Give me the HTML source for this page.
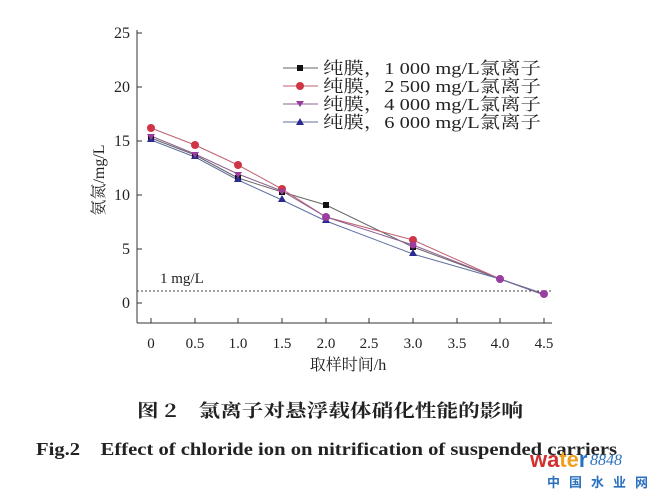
<!DOCTYPE html>
<html><head><meta charset="utf-8"><style>
body{margin:0;background:#fff;width:656px;height:495px;overflow:hidden}
text{font-family:"Liberation Serif","Noto Serif CJK SC",serif;fill:#222}
</style></head><body>
<svg width="656" height="495" viewBox="0 0 656 495">
<g stroke="#333" stroke-width="1" fill="none">
<line x1="137" y1="30" x2="137" y2="323"/>
<line x1="137" y1="323" x2="552" y2="323"/>
<line x1="137" y1="303" x2="142" y2="303"/><line x1="137" y1="249" x2="142" y2="249"/><line x1="137" y1="195" x2="142" y2="195"/><line x1="137" y1="141" x2="142" y2="141"/><line x1="137" y1="87" x2="142" y2="87"/><line x1="137" y1="33" x2="142" y2="33"/>
<line x1="151" y1="323" x2="151" y2="318"/><line x1="195" y1="323" x2="195" y2="318"/><line x1="238" y1="323" x2="238" y2="318"/><line x1="282" y1="323" x2="282" y2="318"/><line x1="326" y1="323" x2="326" y2="318"/><line x1="369" y1="323" x2="369" y2="318"/><line x1="413" y1="323" x2="413" y2="318"/><line x1="457" y1="323" x2="457" y2="318"/><line x1="500" y1="323" x2="500" y2="318"/><line x1="544" y1="323" x2="544" y2="318"/>
<line x1="137" y1="291" x2="552" y2="291" stroke-dasharray="2,2" stroke="#444"/>
</g>
<g font-size="16" text-anchor="end">
<text x="130" y="308">0</text><text x="130" y="254">5</text><text x="130" y="200">10</text><text x="130" y="146">15</text><text x="130" y="92">20</text><text x="130" y="38">25</text>
</g>
<g font-size="15" text-anchor="middle">
<text x="151" y="348">0</text><text x="195" y="348">0.5</text><text x="238" y="348">1.0</text><text x="282" y="348">1.5</text><text x="326" y="348">2.0</text><text x="369" y="348">2.5</text><text x="413" y="348">3.0</text><text x="457" y="348">3.5</text><text x="500" y="348">4.0</text><text x="544" y="348">4.5</text>
</g>
<text x="160" y="283" font-size="15">1 mg/L</text>
<text x="348" y="370" font-size="16" text-anchor="middle">取样时间/h</text>
<text transform="translate(104 180) rotate(-90)" font-size="16" text-anchor="middle">氨氮/mg/L</text>
<g stroke-width="1" fill="none">
<polyline stroke="#666" points="151,138 195,155 238,178 282,192 326,205 413,247 500,279 544,294"/>
<polyline stroke="#c06070" points="151,128 195,145 238,165 282,189 326,217 413,240 500,279 544,294"/>
<polyline stroke="#906090" points="151,136 195,154 238,174 282,191 326,217 413,245 500,279 544,295"/>
<polyline stroke="#6070a0" points="151,140 195,157 238,180 282,200 326,221 413,254 500,279 544,294"/>
</g>
<g fill="#111"><rect x="148" y="135" width="6" height="6"/><rect x="192" y="152" width="6" height="6"/><rect x="235" y="175" width="6" height="6"/><rect x="279" y="189" width="6" height="6"/><rect x="323" y="202" width="6" height="6"/><rect x="410" y="244" width="6" height="6"/></g>
<g fill="#d03545"><circle cx="151" cy="128" r="4"/><circle cx="195" cy="145" r="4"/><circle cx="238" cy="165" r="4"/><circle cx="282" cy="189" r="4"/><circle cx="413" cy="240" r="4"/></g>
<g fill="#2a2a90"><polygon points="151,135 155,142 147,142"/><polygon points="195,152 199,159 191,159"/><polygon points="238,175 242,182 234,182"/><polygon points="282,195 286,202 278,202"/><polygon points="326,216 330,223 322,223"/><polygon points="413,249 417,256 409,256"/></g>
<g fill="#9a3ca0"><polygon points="147,134 155,134 151,140"/><polygon points="191,152 199,152 195,158"/><polygon points="234,172 242,172 238,178"/><polygon points="278,189 286,189 282,195"/><circle cx="326" cy="217" r="4"/><circle cx="413" cy="245" r="3.5"/><circle cx="500" cy="279" r="4"/><circle cx="544" cy="294" r="4"/></g>
<g font-size="17">
<line x1="283" y1="68" x2="318" y2="68" stroke="#666"/><rect x="297" y="65" width="6" height="6" fill="#111"/><text x="323" y="74" textLength="218" lengthAdjust="spacingAndGlyphs">纯膜，1 000 mg/L氯离子</text>
<line x1="283" y1="86" x2="318" y2="86" stroke="#c06070"/><circle cx="300" cy="86" r="4" fill="#d03545"/><text x="323" y="92" textLength="218" lengthAdjust="spacingAndGlyphs">纯膜，2 500 mg/L氯离子</text>
<line x1="283" y1="104" x2="318" y2="104" stroke="#906090"/><polygon points="296,101 304,101 300,107" fill="#9a3ca0"/><text x="323" y="110" textLength="218" lengthAdjust="spacingAndGlyphs">纯膜，4 000 mg/L氯离子</text>
<line x1="283" y1="122" x2="318" y2="122" stroke="#6070a0"/><polygon points="300,118 304,125 296,125" fill="#2a2a90"/><text x="323" y="128" textLength="218" lengthAdjust="spacingAndGlyphs">纯膜，6 000 mg/L氯离子</text>
</g>
<text x="137" y="417" font-size="18" font-weight="bold" textLength="386" lengthAdjust="spacingAndGlyphs" style="font-family:'Noto Serif CJK SC','Noto Sans CJK SC',serif">图 2　氯离子对悬浮载体硝化性能的影响</text>
<text x="36" y="455" font-size="18" font-weight="bold" textLength="581" lengthAdjust="spacingAndGlyphs">Fig.2　Effect of chloride ion on nitrification of suspended carriers</text>
<text x="530" y="467" font-size="22" font-weight="bold" style="font-family:'Liberation Sans',sans-serif;fill:#d03030">wa<tspan style="fill:#f0a020">te</tspan><tspan style="fill:#2a70c0">r</tspan></text>
<text x="590" y="465" font-size="16" font-style="italic" style="fill:#2a70c0">8848</text>
<text x="547" y="487" font-size="13" font-weight="bold" letter-spacing="9" style="font-family:'Noto Sans CJK SC',sans-serif;fill:#2a70c0">中国水业网</text>
</svg>
</body></html>
